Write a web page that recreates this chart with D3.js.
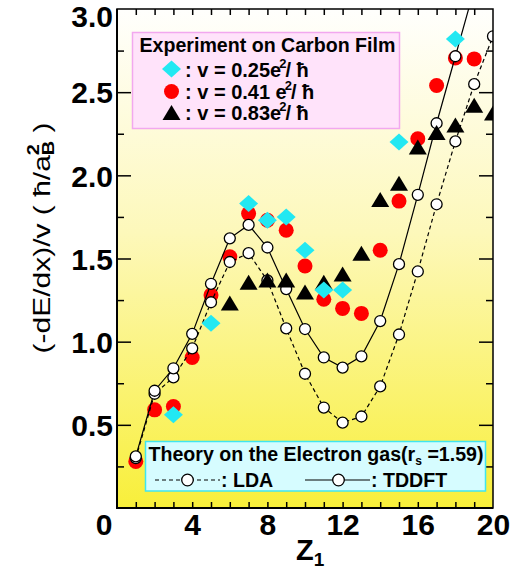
<!DOCTYPE html>
<html>
<head>
<meta charset="utf-8">
<script src="https://cdn.jsdelivr.net/npm/d3@7"></script>
<style>
  body { margin: 0; background: #fff; }
  svg text { font-family: "Liberation Sans", Arial, sans-serif; fill: #000; }
</style>
</head>
<body>
<svg id="chart" width="522" height="569"></svg>
<script>
// experiment, v = 0.25 e^2/hbar (cyan diamonds)
const zV025 = [3, 5, 7, 8, 9, 10, 11, 12, 15, 18];
const v025 = [0.56, 1.11, 1.83, 1.73, 1.75, 1.55, 1.31, 1.31, 2.20, 2.82];

// experiment, v = 0.41 e^2/hbar (red circles)
const zV041 = [1, 2, 3, 4, 5, 6, 7, 8, 9, 10, 11, 12, 13, 14, 15, 16, 17, 18, 19];
const v041 = [0.28, 0.59, 0.61, 0.905, 1.28, 1.51, 1.77, 1.73, 1.67, 1.455, 1.255, 1.20, 1.17, 1.55, 1.845, 2.22, 2.54, 2.705, 2.70];

// experiment, v = 0.83 e^2/hbar (black triangles)
const zV083 = [6, 7, 8, 9, 10, 11, 12, 13, 14, 15, 16, 17, 18, 19, 20];
const v083 = [1.233, 1.357, 1.37, 1.37, 1.298, 1.357, 1.407, 1.532, 1.854, 1.953, 2.171, 2.258, 2.302, 2.422, 2.374];

// theory, electron gas rs = 1.59
const zLDA = [1, 2, 3, 4, 5, 6, 7, 8, 9, 10, 11, 12, 13, 14, 15, 16, 17, 18, 19, 20];
const lda = [0.30, 0.687, 0.785, 0.96, 1.237, 1.479, 1.532, 1.368, 1.08, 0.807, 0.604, 0.513, 0.55, 0.731, 1.043, 1.422, 1.826, 2.204, 2.548, 2.836];
const zTDDFT = [1, 2, 3, 4, 5, 6, 7, 8, 9, 10, 11, 12, 13, 14, 15, 16, 17, 18, 19];
const tddft = [0.31, 0.705, 0.84, 1.047, 1.348, 1.621, 1.702, 1.566, 1.316, 1.076, 0.905, 0.844, 0.912, 1.124, 1.466, 1.883, 2.313, 2.716, 3.12];

// tick labels
const xTickLabels = [0, 4, 8, 12, 16, 20];
const yTickLabels = [0.5, 1.0, 1.5, 2.0, 2.5, 3.0];

const width = 522, height = 569;
const margin = { top: 9, right: 29, bottom: 61, left: 117 };

const svg = d3.select('#chart');

const x = d3.scaleLinear().domain([0, 20]).range([margin.left, width - margin.right]);
const y = d3.scaleLinear().domain([0, 3]).range([height - margin.bottom, margin.top]);

const x0 = x.range()[0], x1 = x.range()[1];
const y0 = y.range()[0], y1 = y.range()[1];

//background gradient
const defs = svg.append('defs');
const grad = defs.append('linearGradient')
  .attr('id', 'bg').attr('x1', 0).attr('y1', 0).attr('x2', 0).attr('y2', 1);
grad.append('stop').attr('offset', '0%').attr('stop-color', '#fffffd');
grad.append('stop').attr('offset', '45%').attr('stop-color', '#fdf8ba');
grad.append('stop').attr('offset', '100%').attr('stop-color', '#f8ef3a');

defs.append('clipPath').attr('id', 'plotclip')
  .append('rect').attr('x', x0).attr('y', y1).attr('width', x1 - x0).attr('height', y0 - y1);

svg.append('rect')
  .attr('x', x0).attr('y', y1)
  .attr('width', x1 - x0).attr('height', y0 - y1)
  .attr('fill', 'url(#bg)');

const plot = svg.append('g').attr('clip-path', 'url(#plotclip)');

//red circles
plot.append('g').selectAll('circle')
  .data(v041)
  .join('circle')
  .attr('cx', (d, i) => x(zV041[i]))
  .attr('cy', d => y(d))
  .attr('r', 7.5)
  .attr('fill', '#ff0000');

//theory lines
const lineOf = zs => d3.line().x((d, i) => x(zs[i])).y(d => y(d));

plot.append('path')
  .datum(lda)
  .attr('fill', 'none').attr('stroke', '#000').attr('stroke-width', 1.2)
  .attr('stroke-dasharray', '4,3')
  .attr('d', lineOf(zLDA));

plot.append('path')
  .datum(tddft)
  .attr('fill', 'none').attr('stroke', '#000').attr('stroke-width', 1.2)
  .attr('d', lineOf(zTDDFT));

plot.append('g').selectAll('circle')
  .data(lda)
  .join('circle')
  .attr('cx', (d, i) => x(zLDA[i]))
  .attr('cy', d => y(d))
  .attr('r', 5.5)
  .attr('fill', '#fff').attr('stroke', '#000').attr('stroke-width', 1.3);

plot.append('g').selectAll('circle')
  .data(tddft)
  .join('circle')
  .attr('cx', (d, i) => x(zTDDFT[i]))
  .attr('cy', d => y(d))
  .attr('r', 5.5)
  .attr('fill', '#fff').attr('stroke', '#000').attr('stroke-width', 1.3);

//triangles
const triPath = 'M0,-7.5L9,7.5L-9,7.5Z';
plot.append('g').selectAll('path')
  .data(v083)
  .join('path')
  .attr('d', triPath)
  .attr('transform', (d, i) => `translate(${x(zV083[i])},${y(d)})`)
  .attr('fill', '#000');

//diamonds
const diaPath = 'M0,-8.5L9.5,0L0,8.5L-9.5,0Z';
plot.append('g').selectAll('path')
  .data(v025)
  .join('path')
  .attr('d', diaPath)
  .attr('transform', (d, i) => `translate(${x(zV025[i])},${y(d)})`)
  .attr('fill', '#22e8f2');

//frame
svg.append('rect')
  .attr('x', x0).attr('y', y1)
  .attr('width', x1 - x0).attr('height', y0 - y1)
  .attr('fill', 'none').attr('stroke', '#000').attr('stroke-width', 1.5);
svg.append('path')
  .attr('d', `M${x0},${y1}V${y0}H${x1}`)
  .attr('fill', 'none').attr('stroke', '#000').attr('stroke-width', 2);

//ticks
const styleTicks = g => {
  g.select('.domain').remove();
  g.selectAll('line').attr('stroke', '#000').attr('stroke-width', 1.5);
};
const intTicks = d3.range(1, 20);
const yMinor = d3.range(0.25, 3, 0.5);
const yMajor = d3.range(0.5, 3, 0.5);

svg.append('g').attr('transform', `translate(0,${y0})`)
  .call(d3.axisBottom(x).tickValues(intTicks).tickSize(-6).tickFormat(''))
  .call(styleTicks);
svg.append('g').attr('transform', `translate(0,${y1})`)
  .call(d3.axisTop(x).tickValues(intTicks).tickSize(-6).tickFormat(''))
  .call(styleTicks);
svg.append('g').attr('transform', `translate(${x0},0)`)
  .call(d3.axisLeft(y).tickValues(yMinor).tickSize(-7).tickFormat(''))
  .call(styleTicks);
svg.append('g').attr('transform', `translate(${x0},0)`)
  .call(d3.axisLeft(y).tickValues(yMajor).tickSize(-14).tickFormat(''))
  .call(styleTicks);
svg.append('g').attr('transform', `translate(${x1},0)`)
  .call(d3.axisRight(y).tickValues(yMinor).tickSize(-7).tickFormat(''))
  .call(styleTicks);
svg.append('g').attr('transform', `translate(${x1},0)`)
  .call(d3.axisRight(y).tickValues(yMajor).tickSize(-14).tickFormat(''))
  .call(styleTicks);

//tick labels
const xLab = svg.append('g').attr('transform', `translate(0,${y0})`)
  .call(d3.axisBottom(x).tickValues(xTickLabels).tickSize(0).tickPadding(6).tickFormat(d3.format('d')));
xLab.select('.domain').remove();
xLab.selectAll('text')
  .style('font-size', '30px').style('font-weight', 'bold')
  .style('font-family', '"Liberation Sans", Arial, sans-serif')
  .attr('fill', '#000')
  .attr('x', d => d === 0 ? -13.5 : 0);

const yLab = svg.append('g').attr('transform', `translate(${x0},0)`)
  .call(d3.axisLeft(y).tickValues(yTickLabels).tickSize(0).tickPadding(4).tickFormat(d3.format('.1f')));
yLab.select('.domain').remove();
yLab.selectAll('text')
  .style('font-size', '30px').style('font-weight', 'bold')
  .style('font-family', '"Liberation Sans", Arial, sans-serif')
  .attr('fill', '#000')
  .attr('dy', d => d === 3 ? '0.58em' : '0.36em');

//axis titles
const xt = svg.append('text')
  .attr('x', 296).attr('y', 560)
  .style('font-size', '29px').style('font-weight', 'bold');
xt.append('tspan').text('Z');
xt.append('tspan').attr('dy', 6).style('font-size', '19px').text('1');

const yt = svg.append('text')
  .attr('transform', 'translate(50,238) rotate(-90) scale(1.25,1)')
  .attr('text-anchor', 'middle')
  .style('font-size', '24px');
yt.append('tspan').text('(-dE/dx)/v  ( ħ/a');
yt.append('tspan').attr('dy', -11).style('font-size', '16px').style('font-weight', 'bold').text('2');
yt.append('tspan').attr('dx', -9).attr('dy', 15).style('font-size', '16px').style('font-weight', 'bold').text('B');
yt.append('tspan').attr('dy', -4).text(' )');

//legend: experiment
svg.append('rect')
  .attr('x', 132.5).attr('y', 32.5).attr('width', 267).attr('height', 96)
  .attr('fill', '#ffe3fa').attr('stroke', '#f2a8ef').attr('stroke-width', 1.5);
svg.append('text')
  .attr('x', 139.5).attr('y', 51.5)
  .style('font-size', '19.6px').style('font-weight', 'bold')
  .text('Experiment on Carbon Film');

const expRows = [
  { num: '0.25', shape: 'diamond' },
  { num: '0.41 ', shape: 'circle' },
  { num: '0.83', shape: 'triangle' }
];
const rowY = [69, 91.5, 112.5];
expRows.forEach((r, i) => {
  const cy = rowY[i];
  if (r.shape === 'diamond') {
    svg.append('path').attr('d', diaPath).attr('transform', `translate(171.5,${cy})`).attr('fill', '#22e8f2');
  } else if (r.shape === 'circle') {
    svg.append('circle').attr('cx', 171.5).attr('cy', cy).attr('r', 7.5).attr('fill', '#ff0000');
  } else {
    svg.append('path').attr('d', triPath).attr('transform', `translate(171.5,${cy})`).attr('fill', '#000');
  }
  const t = svg.append('text')
    .attr('x', 185).attr('y', cy + 7.5)
    .style('font-size', '20px').style('font-weight', 'bold');
  t.append('tspan').text(': v = ' + r.num + 'e');
  t.append('tspan').attr('dx', -2).attr('dy', -9).style('font-size', '13px').text('2');
  t.append('tspan').attr('dx', -1).attr('dy', 9).text('/ ħ');
});

//legend: theory
svg.append('rect')
  .attr('x', 145.5).attr('y', 441.5).attr('width', 340).attr('height', 49.5)
  .attr('fill', '#d6fcff').attr('stroke', '#40e6ee').attr('stroke-width', 1.5);
const th = svg.append('text')
  .attr('x', 148.5).attr('y', 461)
  .style('font-size', '19.6px').style('font-weight', 'bold');
th.append('tspan').text('Theory on the Electron gas(r');
th.append('tspan').attr('dy', 4).style('font-size', '12px').text('s');
th.append('tspan').attr('dy', -4).text(' =1.59)');

svg.append('line').attr('x1', 155).attr('x2', 220).attr('y1', 480).attr('y2', 480)
  .attr('stroke', '#000').attr('stroke-width', 1.2).attr('stroke-dasharray', '4,3');
svg.append('circle').attr('cx', 187.5).attr('cy', 480).attr('r', 5.8)
  .attr('fill', '#fff').attr('stroke', '#000').attr('stroke-width', 1.3);
svg.append('text').attr('x', 221).attr('y', 487)
  .style('font-size', '19.6px').style('font-weight', 'bold').text(': LDA');

svg.append('line').attr('x1', 305).attr('x2', 370).attr('y1', 480).attr('y2', 480)
  .attr('stroke', '#000').attr('stroke-width', 1.2);
svg.append('circle').attr('cx', 338.5).attr('cy', 480).attr('r', 5.8)
  .attr('fill', '#fff').attr('stroke', '#000').attr('stroke-width', 1.3);
svg.append('text').attr('x', 371).attr('y', 487)
  .style('font-size', '19.6px').style('font-weight', 'bold').text(': TDDFT');
</script>
</body>
</html>
